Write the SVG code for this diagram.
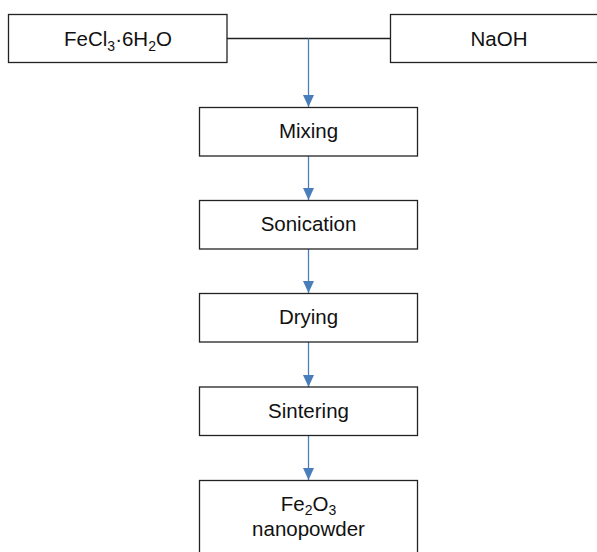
<svg xmlns="http://www.w3.org/2000/svg" width="597" height="552" viewBox="0 0 597 552">
<style>
.box{fill:#fff;stroke:#222;stroke-width:1.3}
.t{font-family:"Liberation Sans",Arial,sans-serif;font-size:20.5px;fill:#111;text-anchor:middle}
.s{font-size:14px}
.flow{stroke:#4a7ebb;stroke-width:1.3;fill:none}
.join{stroke:#222;stroke-width:1.3;fill:none}
</style>
<defs>
<marker id="ah" markerWidth="12" markerHeight="11" refX="12" refY="5.5" orient="auto" markerUnits="userSpaceOnUse">
<path d="M0,0 L12,5.5 L0,11 Z" fill="#4a7ebb"/>
</marker>
</defs>
<g id="connectors">
<path class="join" d="M227,38.5 H390.5"/>
<path class="flow" d="M308.5,38.5 V107" marker-end="url(#ah)"/>
<path class="flow" d="M308.5,156 V200" marker-end="url(#ah)"/>
<path class="flow" d="M308.5,249 V293" marker-end="url(#ah)"/>
<path class="flow" d="M308.5,342 V387" marker-end="url(#ah)"/>
<path class="flow" d="M308.5,436 V480" marker-end="url(#ah)"/>
</g>
<g id="fecl3">
<rect class="box" x="8.5" y="14.5" width="218.5" height="48"/>
<text class="t" x="118" y="45.5">FeCl<tspan class="s" dy="5">3</tspan><tspan dy="-5">·6H</tspan><tspan class="s" dy="5">2</tspan><tspan dy="-5">O</tspan></text>
</g>
<g id="naoh">
<rect class="box" x="390.5" y="14.5" width="210" height="48"/>
<text class="t" x="499" y="45.5">NaOH</text>
</g>
<g id="mixing">
<rect class="box" x="199.5" y="107.5" width="218" height="48.5"/>
<text class="t" x="308.5" y="138">Mixing</text>
</g>
<g id="sonication">
<rect class="box" x="199.5" y="200.5" width="218" height="48.5"/>
<text class="t" x="308.5" y="231">Sonication</text>
</g>
<g id="drying">
<rect class="box" x="199.5" y="293.5" width="218" height="48.5"/>
<text class="t" x="308.5" y="324">Drying</text>
</g>
<g id="sintering">
<rect class="box" x="199.5" y="387" width="218" height="48.5"/>
<text class="t" x="308.5" y="418">Sintering</text>
</g>
<g id="fe2o3">
<rect class="box" x="199.5" y="480.5" width="218" height="80"/>
<text class="t" x="308.5" y="511">Fe<tspan class="s" dy="4">2</tspan><tspan dy="-4">O</tspan><tspan class="s" dy="4">3</tspan></text>
<text class="t" x="308.5" y="536">nanopowder</text>
</g>
</svg>
